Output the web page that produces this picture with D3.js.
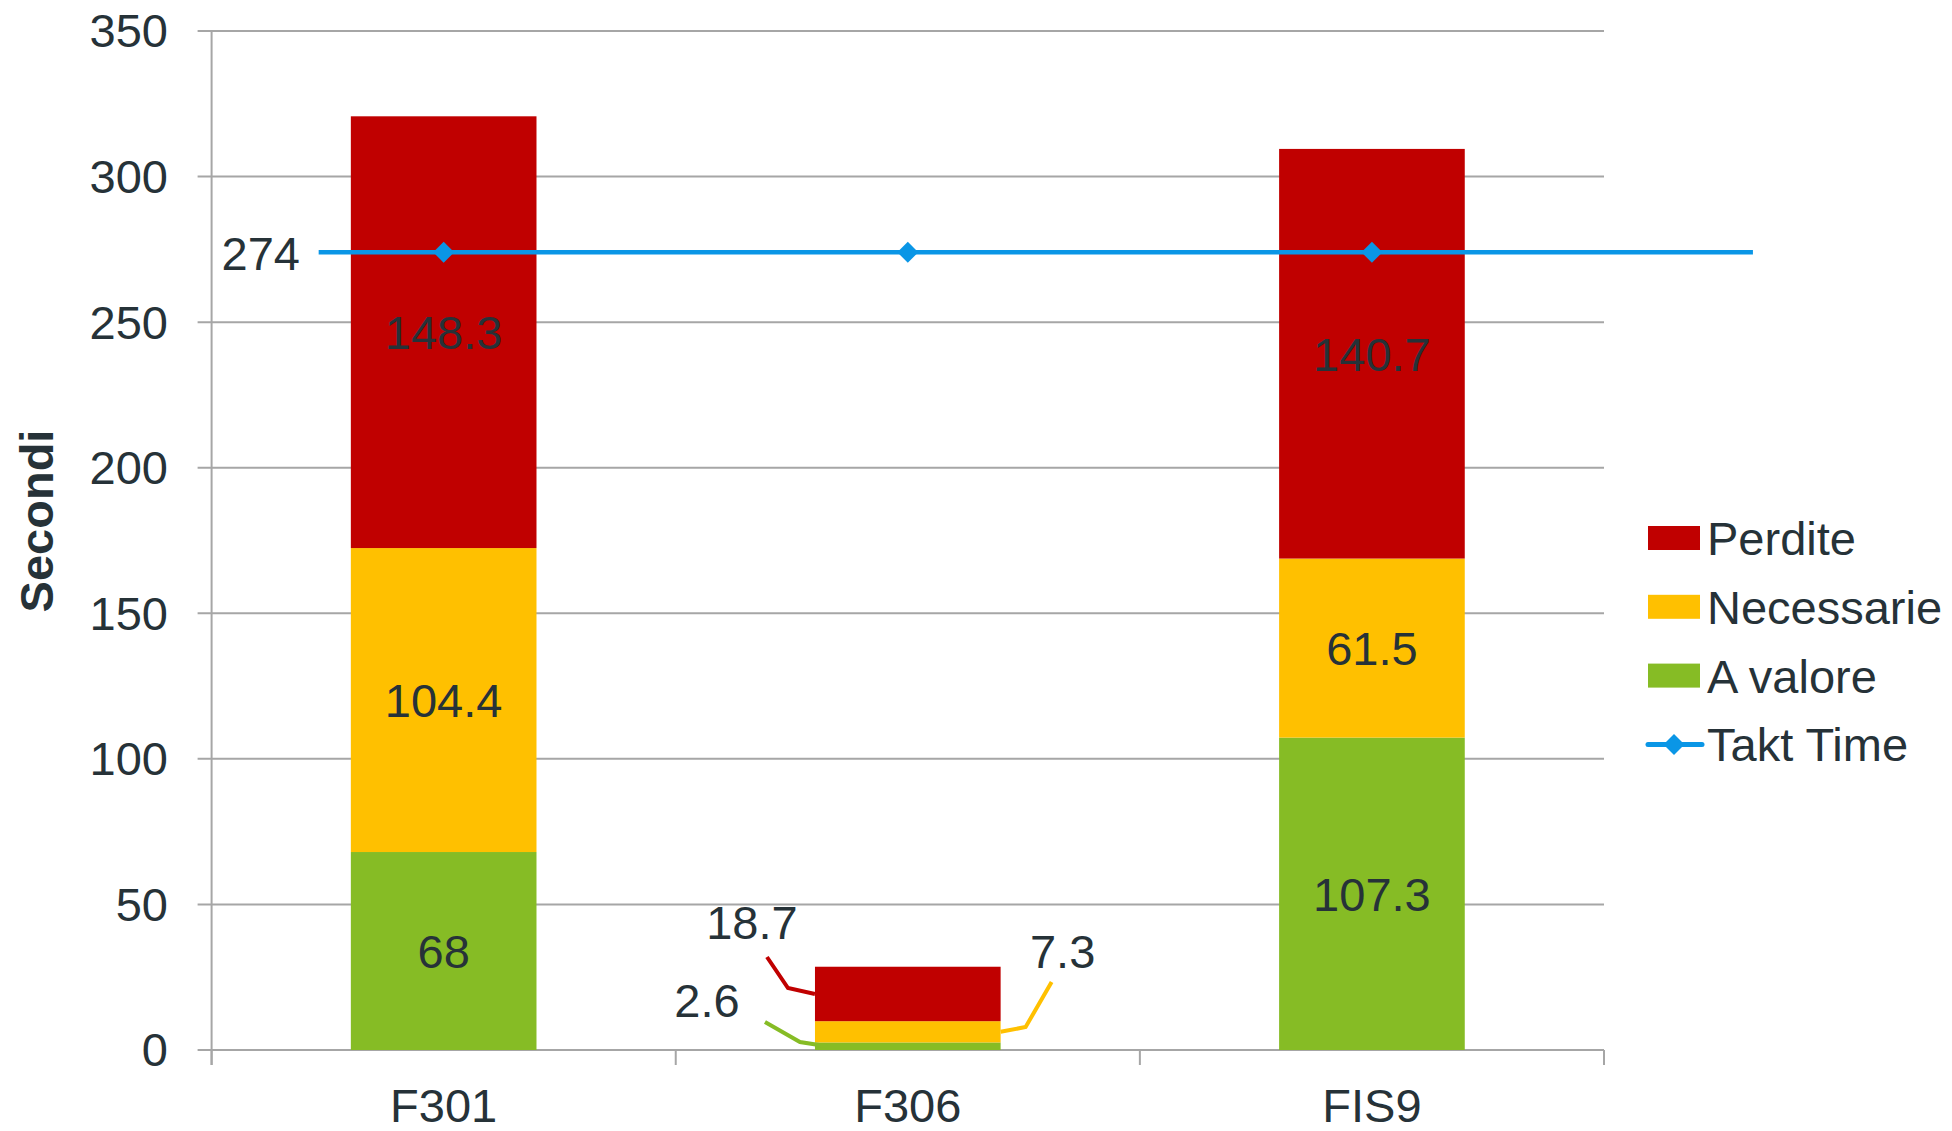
<!DOCTYPE html>
<html>
<head>
<meta charset="utf-8">
<script src="https://cdn.jsdelivr.net/npm/d3@7"></script>
<style>
  html, body { margin: 0; padding: 0; background: #fff; }
  svg { display: block; }
  text { font-family: "Liberation Sans", Arial, sans-serif; fill: #263238; }
</style>
</head>
<body>
<svg id="chart" width="1952" height="1131"></svg>
<script>
// Categories and stacked series (seconds)
const categories = ["F301", "F306", "FIS9"];
const aValore    = [68, 2.6, 107.3];
const necessarie = [104.4, 7.3, 61.5];
const perdite    = [148.3, 18.7, 140.7];
const taktTime   = [274, 274, 274];
const yTicks     = [0, 50, 100, 150, 200, 250, 300, 350];

const seriesNames  = ["A valore", "Necessarie", "Perdite"];
const seriesValues = [aValore, necessarie, perdite];
const colors = { "A valore": "#86BC25", "Necessarie": "#FFC000", "Perdite": "#C00000", "Takt Time": "#0A96E6" };

const svg = d3.select("#chart");
const plotLeft = 211.6, plotRight = 1604, plotTop = 31, plotBottom = 1050;
const fontSize = 47;

const x = d3.scaleBand().domain(categories).range([plotLeft, plotRight]).padding(0);
const y = d3.scaleLinear().domain([0, 350]).range([plotBottom, plotTop]);
const barW = x.bandwidth() * 0.4;
const cx = c => x(c) + x.bandwidth() / 2;

// Gridlines
svg.append("g").selectAll("line").data(yTicks).join("line")
  .attr("x1", plotLeft - 14).attr("x2", plotRight)
  .attr("y1", d => y(d)).attr("y2", d => y(d))
  .attr("stroke", "#A6A6A6").attr("stroke-width", 2);

// Y axis line and tick labels
svg.append("line").attr("x1", plotLeft).attr("x2", plotLeft).attr("y1", plotTop).attr("y2", plotBottom + 15)
  .attr("stroke", "#A6A6A6").attr("stroke-width", 2);
svg.append("g").selectAll("text").data(yTicks).join("text")
  .attr("x", 168).attr("y", d => y(d)).attr("dy", "0.35em")
  .attr("text-anchor", "end").attr("font-size", fontSize).text(d => d);

// X axis tick marks at band boundaries
const bounds = categories.map(c => x(c)).concat([plotRight]);
svg.append("g").selectAll("line").data(bounds).join("line")
  .attr("x1", d => d).attr("x2", d => d).attr("y1", plotBottom).attr("y2", plotBottom + 15)
  .attr("stroke", "#A6A6A6").attr("stroke-width", 2);
svg.append("g").selectAll("text").data(categories).join("text")
  .attr("x", d => cx(d)).attr("y", 1122)
  .attr("text-anchor", "middle").attr("font-size", fontSize).text(d => d);

// Y axis title
svg.append("text").attr("transform", "translate(53,521) rotate(-90)")
  .attr("text-anchor", "middle").attr("font-size", fontSize).attr("font-weight", "bold").text("Secondi");

// Stacked bars
const rows = categories.map((c, i) => {
  const r = { cat: c };
  seriesNames.forEach((s, k) => r[s] = seriesValues[k][i]);
  return r;
});
const stacked = d3.stack().keys(seriesNames)(rows);
const segs = [];
stacked.forEach(layer => layer.forEach(d => segs.push({ key: layer.key, cat: d.data.cat, y0: d[0], y1: d[1], v: d.data[layer.key] })));

svg.append("g").selectAll("rect").data(segs).join("rect")
  .attr("x", d => cx(d.cat) - barW / 2).attr("width", barW)
  .attr("y", d => y(d.y1)).attr("height", d => y(d.y0) - y(d.y1))
  .attr("fill", d => colors[d.key]);

// Labels inside bars (tall segments)
svg.append("g").selectAll("text").data(segs.filter(d => d.cat !== "F306")).join("text")
  .attr("x", d => cx(d.cat)).attr("y", d => y((d.y0 + d.y1) / 2)).attr("dy", "0.36em")
  .attr("text-anchor", "middle").attr("font-size", fontSize).text(d => d.v);

// Labels with leader lines for the short F306 segments
const f306 = segs.filter(d => d.cat === "F306");
const bl = cx("F306") - barW / 2, br = cx("F306") + barW / 2;
const leaders = {
  "Perdite":    { lx: bl - 63,  ly: 939,  pts: d => [[bl - 48, 957], [bl - 27, 988], [bl, y((d.y0 + d.y1) / 2)]] },
  "A valore":   { lx: bl - 108, ly: 1017, pts: d => [[bl - 50, 1022], [bl - 15, 1042], [bl + 12, y((d.y0 + d.y1) / 2)]] },
  "Necessarie": { lx: br + 62,  ly: 968,  pts: d => [[br, y((d.y0 + d.y1) / 2)], [br + 25, 1027], [br + 51, 982]] }
};
f306.forEach(d => {
  const L = leaders[d.key];
  svg.append("path").attr("d", d3.line()(L.pts(d)))
    .attr("fill", "none").attr("stroke", colors[d.key]).attr("stroke-width", 4);
  svg.append("text").attr("x", L.lx).attr("y", L.ly)
    .attr("text-anchor", "middle").attr("font-size", fontSize).text(d.v);
});

// Takt Time line with diamond markers
const taktY = y(taktTime[0]);
svg.append("line").attr("x1", cx("F301") - 125).attr("x2", cx("FIS9") + 381)
  .attr("y1", taktY).attr("y2", taktY)
  .attr("stroke", colors["Takt Time"]).attr("stroke-width", 4.5);
const diamond = d3.symbol().type(d3.symbolDiamond2).size(280);
svg.append("g").selectAll("path").data(categories).join("path")
  .attr("d", diamond).attr("transform", (d, i) => `translate(${cx(d)},${y(taktTime[i])})`)
  .attr("fill", colors["Takt Time"]);
svg.append("text").attr("x", 300).attr("y", taktY).attr("dy", "0.38em")
  .attr("text-anchor", "end").attr("font-size", fontSize).text(taktTime[0]);

// Legend
const legendItems = ["Perdite", "Necessarie", "A valore", "Takt Time"];
const lg = svg.append("g").attr("transform", "translate(1648,538)");
legendItems.forEach((name, i) => {
  const g = lg.append("g").attr("transform", `translate(0,${i * 68.8})`);
  if (name === "Takt Time") {
    g.append("line").attr("x1", 0).attr("x2", 54).attr("y1", 0).attr("y2", 0)
      .attr("stroke", colors[name]).attr("stroke-width", 5).attr("stroke-linecap", "round");
    g.append("path").attr("d", diamond).attr("transform", "translate(26,0)").attr("fill", colors[name]);
  } else {
    g.append("rect").attr("x", 0).attr("y", -12).attr("width", 52).attr("height", 24).attr("fill", colors[name]);
  }
  g.append("text").attr("x", 59).attr("y", 0).attr("dy", "0.36em").attr("font-size", fontSize).text(name);
});
</script>
</body>
</html>
